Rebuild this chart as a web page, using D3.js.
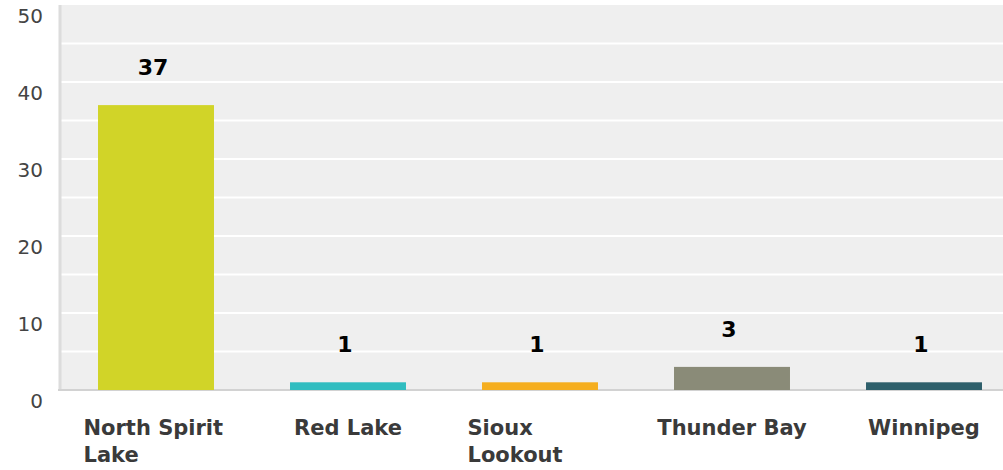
<!DOCTYPE html>
<html>
<head>
<meta charset="utf-8">
<script src="https://cdn.jsdelivr.net/npm/d3@7"></script>
<style>
  body { margin: 0; background: #fff; }
  svg { display: block; font-family: "DejaVu Sans", sans-serif; }
</style>
</head>
<body>
<script>
const categories = ["North Spirit Lake", "Red Lake", "Sioux Lookout", "Thunder Bay", "Winnipeg"];
const values = [37, 1, 1, 3, 1];
const barColors = ["#d1d428", "#30bdc0", "#f5ae1f", "#8a8b78", "#2e5f6b"];
const yTicks = [0, 10, 20, 30, 40, 50];

const width = 1003, height = 470;
const plotLeft = 61, plotTop = 5, plotBottom = 390;

const svg = d3.select('body').append('svg')
    .attr('width', width)
    .attr('height', height);

const x = d3.scaleBand()
    .domain(categories)
    .range([60, 1020])
    .paddingInner(0.396)
    .paddingOuter(0.198);

const y = d3.scaleLinear()
    .domain([0, 50])
    .range([plotBottom, plotTop]);

// plot background
svg.append('rect')
    .attr('x', plotLeft)
    .attr('y', plotTop)
    .attr('width', width - plotLeft)
    .attr('height', plotBottom - plotTop)
    .attr('fill', '#efefef');

// gridlines every 5
svg.append('g')
    .selectAll('line')
    .data(d3.range(5, 50, 5))
    .join('line')
    .attr('x1', plotLeft)
    .attr('x2', width)
    .attr('y1', d => y(d))
    .attr('y2', d => y(d))
    .attr('stroke', '#ffffff')
    .attr('stroke-width', 2);

// left axis line
svg.append('line')
    .attr('x1', 60).attr('x2', 60)
    .attr('y1', plotTop).attr('y2', plotBottom)
    .attr('stroke', '#dcdcdc')
    .attr('stroke-width', 3);

// bottom axis line
svg.append('line')
    .attr('x1', 58).attr('x2', width)
    .attr('y1', plotBottom).attr('y2', plotBottom)
    .attr('stroke', '#d2d2d2')
    .attr('stroke-width', 2);

// y tick labels
svg.append('g')
    .selectAll('text')
    .data(yTicks)
    .join('text')
    .attr('x', 43)
    .attr('y', d => y(d) + 18)
    .attr('text-anchor', 'end')
    .attr('font-size', 20)
    .attr('fill', '#444')
    .text(d => d);

// bars
svg.append('g')
    .selectAll('rect')
    .data(values)
    .join('rect')
    .attr('x', (d, i) => x(categories[i]))
    .attr('y', d => y(d))
    .attr('width', x.bandwidth())
    .attr('height', d => y(0) - y(d))
    .attr('fill', (d, i) => barColors[i]);

// value labels
svg.append('g')
    .selectAll('text')
    .data(values)
    .join('text')
    .attr('x', (d, i) => x(categories[i]) + x.bandwidth() / 2 - 3)
    .attr('y', d => y(d) - 30)
    .attr('text-anchor', 'middle')
    .attr('font-size', 22)
    .attr('font-weight', 'bold')
    .attr('fill', '#000')
    .text(d => d);

// category labels, wrapped to a max width
const maxLabelWidth = 152;
const blockWidth = 145;
const catG = svg.append('g');
categories.forEach((c, i) => {
    const cx = x(c) + x.bandwidth() / 2;
    const t = catG.append('text')
        .attr('font-size', 21)
        .attr('font-weight', 'bold')
        .attr('fill', '#3a3a3a')
        .attr('y', 435);
    const words = c.split(' ');
    let lines = [];
    let cur = '';
    words.forEach(w => {
        const test = cur ? cur + ' ' + w : w;
        t.text(test);
        if (cur && t.node().getComputedTextLength() > maxLabelWidth) {
            lines.push(cur);
            cur = w;
        } else {
            cur = test;
        }
    });
    lines.push(cur);
    t.text(c);
    const full = t.node().getComputedTextLength();
    t.text(null);
    // single lines are centred, wrapped ones start at the block's left edge
    const left = lines.length === 1 ? cx - full / 2 : cx - blockWidth / 2;
    lines.forEach((ln, k) => {
        t.append('tspan')
            .attr('x', left)
            .attr('dy', k === 0 ? 0 : 27)
            .text(ln);
    });
});
</script>
</body>
</html>
